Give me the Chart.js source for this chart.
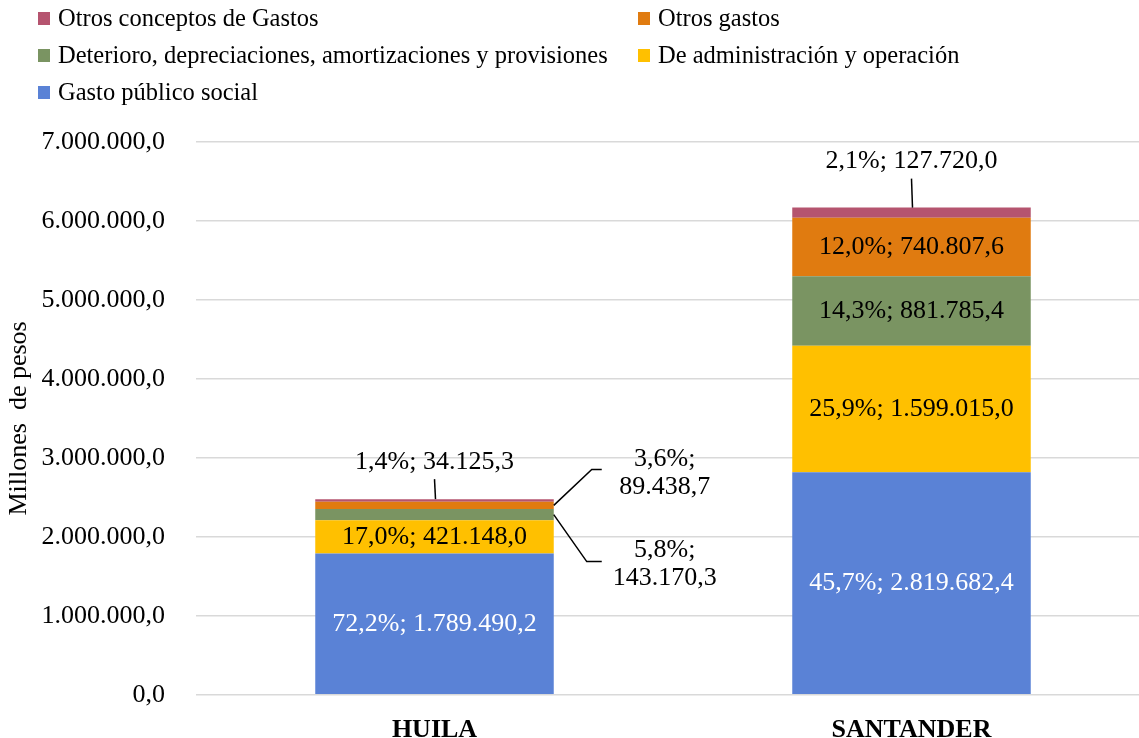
<!DOCTYPE html>
<html lang="es">
<head>
<meta charset="utf-8">
<title>Gastos Huila - Santander</title>
<script src="https://cdn.jsdelivr.net/npm/chart.js@4.4.1/dist/chart.umd.min.js"></script>
<style>
  html, body { margin: 0; padding: 0; overflow: hidden; background: #fff; }
  #contenedor { position: relative; width: 1150px; height: 758px; }
  #grafico { position: absolute; left: 0; top: 0; }
  .item-leyenda {
    position: absolute;
    display: flex;
    align-items: center;
    font-family: "Liberation Serif", "Times New Roman", serif;
    font-size: 24.5px;
    color: #000;
    white-space: nowrap;
    height: 30px;
  }
  .item-leyenda span.cuadro { width: 12px; height: 13px; margin-right: 8px; display: inline-block; }
</style>
</head>
<body>
<div id="contenedor">
  <canvas id="grafico" width="1150" height="758"></canvas>
  <div id="leyenda"></div>
</div>
<script>
// datos
const categorias = ["HUILA", "SANTANDER"];
const nombresSeries = [
  "Gasto público social",
  "De administración y operación",
  "Deterioro, depreciaciones, amortizaciones y provisiones",
  "Otros gastos",
  "Otros conceptos de Gastos"
];
const gastoSocial = [1789490.2, 2819682.4];
const administracion = [421148.0, 1599015.0];
const deterioro = [143170.3, 881785.4];
const otrosGastos = [89438.7, 740807.6];
const otrosConceptos = [34125.3, 127720.0];
const ticksY = [0, 1000000, 2000000, 3000000, 4000000, 5000000, 6000000, 7000000];

const colores = ["#5A82D6", "#FFC000", "#7A9462", "#E07B10", "#B5546F"];
const valores = [gastoSocial, administracion, deterioro, otrosGastos, otrosConceptos];
const fuente = "'Liberation Serif', 'Times New Roman', serif";

// totales por departamento (para los porcentajes)
const totales = categorias.map((c, j) => valores.reduce((s, v) => s + v[j], 0));

function formato(v) {
  const partes = v.toFixed(1).split('.');
  return partes[0].replace(/\B(?=(\d{3})+(?!\d))/g, '.') + ',' + partes[1];
}
function porcentaje(v, total) {
  return (v / total * 100).toFixed(1).replace('.', ',') + '%';
}

// etiquetas que van por fuera de la barra, con linea guia
const llamadas = [
  { serie: 4, cat: 0, tipo: 'arriba', dy: -37 },
  { serie: 4, cat: 1, tipo: 'arriba', dy: -46 },
  { serie: 3, cat: 0, tipo: 'derecha', dy: -32, codo: 38 },
  { serie: 2, cat: 0, tipo: 'derecha', dy: 50, codo: 33 }
];

const etiquetasPlugin = {
  id: 'etiquetas',
  afterDatasetsDraw(chart) {
    const ctx = chart.ctx;
    ctx.save();
    ctx.font = '26px ' + fuente;
    ctx.textAlign = 'center';
    ctx.textBaseline = 'middle';
    ctx.strokeStyle = '#000';
    ctx.lineWidth = 1.5;
    chart.data.datasets.forEach((ds, i) => {
      const meta = chart.getDatasetMeta(i);
      meta.data.forEach((bar, j) => {
        const p = bar.getProps(['x', 'y', 'base', 'width'], true);
        const texto = porcentaje(ds.data[j], totales[j]) + '; ' + formato(ds.data[j]);
        const llamada = llamadas.find(l => l.serie === i && l.cat === j);
        const medio = (p.y + p.base) / 2;
        if (!llamada) {
          ctx.fillStyle = i === 0 ? '#fff' : '#000';
          ctx.fillText(texto, p.x, medio);
          return;
        }
        ctx.fillStyle = '#000';
        if (llamada.tipo === 'arriba') {
          const ly = p.y + llamada.dy;
          ctx.fillText(texto, p.x, ly);
          ctx.beginPath();
          ctx.moveTo(p.x, ly + 17);
          ctx.lineTo(p.x + 1, p.y);
          ctx.stroke();
        } else {
          const derecha = p.x + p.width / 2;
          const ly = medio + llamada.dy;
          const lineas = texto.split(' ');
          ctx.fillText(lineas[0], derecha + 111, ly - 14);
          ctx.fillText(lineas[1], derecha + 111, ly + 14);
          const yCodo = ly + (llamada.dy < 0 ? -4 : -3);
          ctx.beginPath();
          ctx.moveTo(derecha, medio);
          ctx.lineTo(derecha + llamada.codo, yCodo);
          ctx.lineTo(derecha + 48, yCodo);
          ctx.stroke();
        }
      });
    });
    ctx.restore();
  }
};

new Chart(document.getElementById('grafico'), {
  type: 'bar',
  data: {
    labels: categorias,
    datasets: nombresSeries.map((n, i) => ({
      label: n,
      data: valores[i],
      backgroundColor: colores[i],
      borderWidth: 0,
      categoryPercentage: 1,
      barPercentage: 0.5
    }))
  },
  options: {
    responsive: false,
    animation: false,
    layout: { padding: { top: 142, left: 0, right: 0, bottom: 0 } },
    plugins: {
      legend: { display: false },
      tooltip: { enabled: false }
    },
    scales: {
      x: {
        stacked: true,
        grid: { display: false },
        border: { display: false },
        ticks: {
          color: '#000',
          padding: 12,
          font: { family: fuente, size: 26, weight: 'bold' }
        }
      },
      y: {
        stacked: true,
        min: 0,
        max: 7000000,
        afterFit: s => { s.width = 196; },
        afterBuildTicks: s => { s.ticks = ticksY.map(v => ({ value: v })); },
        grid: { color: '#d9d9d9', lineWidth: 1.5, drawTicks: false },
        border: { display: false },
        ticks: {
          color: '#000',
          padding: 31,
          font: { family: fuente, size: 26 },
          callback: v => formato(v)
        },
        title: {
          display: true,
          text: 'Millones  de pesos',
          color: '#000',
          padding: { top: 4, bottom: 0 },
          font: { family: fuente, size: 26 }
        }
      }
    }
  },
  plugins: [etiquetasPlugin]
});

// leyenda en dos columnas (orden inverso al apilado)
const leyenda = document.getElementById('leyenda');
const ordenLeyenda = [4, 3, 2, 1, 0];
ordenLeyenda.forEach((s, k) => {
  const div = document.createElement('div');
  div.className = 'item-leyenda';
  div.style.left = (k % 2 === 0 ? 38 : 638) + 'px';
  div.style.top = (3 + Math.floor(k / 2) * 37) + 'px';
  div.innerHTML = '<span class="cuadro" style="background:' + colores[s] + '"></span>' + nombresSeries[s];
  leyenda.appendChild(div);
});
</script>
</body>
</html>
